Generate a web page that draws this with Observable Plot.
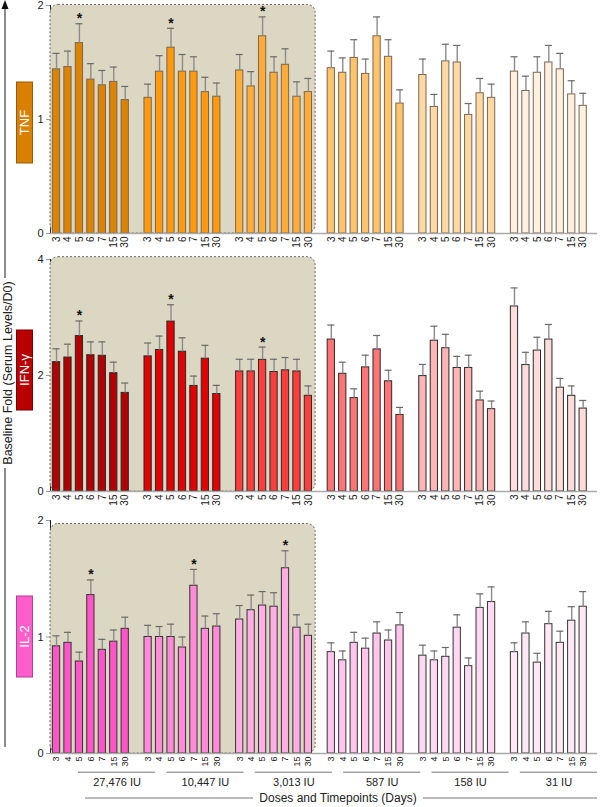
<!DOCTYPE html>
<html><head><meta charset="utf-8">
<script src="https://cdn.jsdelivr.net/npm/d3@7"></script>
<script src="https://cdn.jsdelivr.net/npm/@observablehq/plot@0.6"></script>
<style>
body{margin:0;background:#fff;font-family:"Liberation Sans",Arial,sans-serif;}
#root{position:relative;width:600px;height:807px;overflow:hidden;background:#fff;}
.abs{position:absolute;left:0;}
</style></head><body><div id="root"></div>
<script>
// ---------- data ----------
const doses = ["27,476 IU","10,447 IU","3,013 IU","587 IU","158 IU","31 IU"];
const timepoints = ["3","4","5","6","7","15","30"];

const tnfValues = [
  [1.44,1.46,1.67,1.35,1.30,1.33,1.17],
  [1.19,1.42,1.63,1.42,1.42,1.24,1.20],
  [1.43,1.29,1.73,1.41,1.48,1.20,1.24],
  [1.45,1.41,1.54,1.40,1.73,1.55,1.14],
  [1.39,1.11,1.51,1.50,1.04,1.23,1.19],
  [1.42,1.25,1.41,1.50,1.44,1.22,1.12]
];
const tnfErrors = [
  [0.14,0.14,0.17,0.14,0.13,0.13,0.12],
  [0.12,0.14,0.17,0.15,0.13,0.13,0.12],
  [0.14,0.13,0.17,0.14,0.14,0.13,0.12],
  [0.15,0.13,0.16,0.13,0.17,0.15,0.12],
  [0.14,0.11,0.15,0.15,0.10,0.13,0.12],
  [0.13,0.13,0.14,0.15,0.14,0.12,0.11]
];
const tnfStars = [["27,476 IU","5"],["10,447 IU","5"],["3,013 IU","5"]];

const ifnValues = [
  [2.23,2.31,2.68,2.35,2.34,2.04,1.70],
  [2.33,2.44,2.93,2.41,1.82,2.29,1.68],
  [2.07,2.07,2.27,2.06,2.09,2.07,1.65],
  [2.62,2.03,1.61,2.14,2.45,1.90,1.32],
  [1.99,2.60,2.47,2.13,2.13,1.57,1.42],
  [3.19,2.18,2.43,2.62,1.79,1.65,1.43]
];
const ifnErrors = [
  [0.23,0.23,0.26,0.23,0.24,0.19,0.17],
  [0.23,0.24,0.29,0.24,0.17,0.23,0.15],
  [0.21,0.21,0.22,0.22,0.22,0.21,0.17],
  [0.25,0.20,0.16,0.21,0.24,0.19,0.13],
  [0.20,0.25,0.24,0.20,0.22,0.16,0.14],
  [0.32,0.22,0.23,0.26,0.16,0.17,0.14]
];
const ifnStars = [["27,476 IU","5"],["10,447 IU","5"],["3,013 IU","5"]];

const il2Values = [
  [0.92,0.95,0.79,1.36,0.89,0.96,1.07],
  [1.00,1.00,1.00,0.91,1.44,1.07,1.09],
  [1.15,1.23,1.27,1.26,1.59,1.08,1.01],
  [0.87,0.80,0.95,0.90,1.03,0.97,1.10],
  [0.84,0.80,0.83,1.08,0.75,1.25,1.30],
  [0.87,1.03,0.78,1.11,0.95,1.14,1.26]
];
const il2Errors = [
  [0.09,0.09,0.08,0.13,0.09,0.10,0.10],
  [0.10,0.09,0.11,0.09,0.14,0.11,0.11],
  [0.12,0.13,0.12,0.12,0.15,0.11,0.10],
  [0.08,0.08,0.09,0.09,0.10,0.09,0.11],
  [0.09,0.08,0.08,0.11,0.07,0.12,0.13],
  [0.08,0.10,0.08,0.11,0.10,0.12,0.13]
];
const il2Stars = [["27,476 IU","6"],["10,447 IU","7"],["3,013 IU","7"]];

const tnfColors = ["#dc8400","#ff9a0c","#ffad38","#ffc46c","#ffd9a3","#fff0e0"];
const ifnColors = ["#b30000","#e20000","#ff3d3d","#ff7575","#ffb5b5","#ffdcdc"];
const il2Colors = ["#ff55c8","#ff8ad7","#ffaee4","#ffc5ec","#ffd9f2","#ffe8f6"];

const shadedDoses = ["27,476 IU","10,447 IU","3,013 IU"];

// ---------- helpers ----------
const root = document.getElementById("root");
const FONT = '"Liberation Sans", Arial, sans-serif';

const keys = [];
doses.forEach((d, g) => {
  timepoints.forEach(t => keys.push(d + "|" + t));
  if (g < doses.length - 1) keys.push(d + "|gap");
});

function rowsFor(values, errors, stars, colors) {
  const out = [];
  values.forEach((arr, g) => arr.forEach((v, i) => {
    const dose = doses[g], t = timepoints[i];
    out.push({key: dose + "|" + t, dose, t, v, e: errors[g][i], color: colors[g],
      star: stars.some(s => s[0] === dose && s[1] === t)});
  }));
  return out;
}

function panel({values, errors, stars, colors, stroke, yMax, top, marginTop, areaH, marginBottom, shadeTop, tickFont}) {
  const rows = rowsFor(values, errors, stars, colors);
  const height = marginTop + areaH + marginBottom;
  const chart = Plot.plot({
    width: 600, height, marginLeft: 50, marginRight: 3, marginTop, marginBottom,
    style: {fontFamily: FONT, fontSize: tickFont + "px", color: "#222", background: "transparent", overflow: "visible"},
    x: {domain: keys, range: [50.3, 588.4], padding: 0, round: false, tickSize: 0, tickPadding: 3, tickRotate: -90, label: null,
        tickFormat: k => { const t = k.split("|")[1]; return t === "gap" ? "" : t; }},
    y: {domain: [0, yMax], ticks: [0, yMax / 2, yMax], tickFormat: "d", tickSize: 4, tickPadding: 3, label: null, line: true},
    marks: [
      Plot.barY(rows, {x: "key", y: "v", fill: "color", stroke, strokeWidth: 1, insetLeft: 2.1, insetRight: 2.1}),
      Plot.ruleX(rows, {x: "key", y1: "v", y2: d => d.v + d.e, stroke: "#8c8c8c", strokeWidth: 1.4}),
      Plot.tickY(rows, {x: "key", y: d => d.v + d.e, stroke: "#6a6a6a", strokeWidth: 1.2, insetLeft: 2.2, insetRight: 2.2}),
      Plot.text(rows.filter(d => d.star), {x: "key", y: d => d.v + d.e, text: () => "*", dy: -5, fontSize: 14, fontWeight: "bold", fill: "#111"}),
      Plot.ruleY([0], {stroke: "#aaa", strokeWidth: 1.5})
    ]
  });
  chart.classList.add("abs");
  chart.style.top = top + "px";
  // shaded region behind high-dose groups
  const xs = chart.scale("x"), ys = chart.scale("y");
  const bw = xs.bandwidth;
  const x0 = xs.apply(shadedDoses[0] + "|" + timepoints[0]) - 0.3;
  const x1 = xs.apply(shadedDoses[shadedDoses.length - 1] + "|" + timepoints[timepoints.length - 1]) + bw + 1.5;
  const y0 = ys.apply(shadeTop), y1 = ys.apply(0);
  const ns = "http://www.w3.org/2000/svg";
  const rect = document.createElementNS(ns, "rect");
  rect.setAttribute("x", x0); rect.setAttribute("y", y0);
  rect.setAttribute("width", x1 - x0); rect.setAttribute("height", y1 - y0);
  rect.setAttribute("rx", 8); rect.setAttribute("ry", 8);
  rect.setAttribute("fill", "#dcd7c2"); rect.setAttribute("stroke", "#666");
  rect.setAttribute("stroke-dasharray", "2,2"); rect.setAttribute("stroke-width", 1);
  const svg = chart.tagName.toLowerCase() === "svg" ? chart : chart.querySelector("svg");
  const firstG = svg.querySelector("g");
  svg.insertBefore(rect, firstG);
  // axis styling
  svg.querySelectorAll("g[aria-label^='y-axis']").forEach(g => {
    g.querySelectorAll("path, line").forEach(el => el.setAttribute("stroke", "#9a9a9a"));
    g.querySelectorAll("text").forEach(el => el.setAttribute("font-size", "11"));
    if (g.getAttribute("font-size")) g.setAttribute("font-size", "11");
  });
  root.appendChild(chart);
}

panel({values: tnfValues, errors: tnfErrors, stars: tnfStars, colors: tnfColors, stroke: "#7a6650",
  yMax: 2, top: 0, marginTop: 5, areaH: 228, marginBottom: 25, shadeTop: 2.005, tickFont: 10});
panel({values: ifnValues, errors: ifnErrors, stars: ifnStars, colors: ifnColors, stroke: "#2a2a2a",
  yMax: 4, top: 250, marginTop: 9, areaH: 232, marginBottom: 25, shadeTop: 4.04, tickFont: 10});
panel({values: il2Values, errors: il2Errors, stars: il2Stars, colors: il2Colors, stroke: "#333",
  yMax: 2, top: 505, marginTop: 15, areaH: 233, marginBottom: 20, shadeTop: 1.97, tickFont: 9});

// dose labels under bottom panel
const doseChart = Plot.plot({
  width: 600, height: 30, marginLeft: 0, marginRight: 0, marginTop: 0, marginBottom: 0,
  style: {fontFamily: FONT, fontSize: "11px", color: "#222", background: "transparent", overflow: "visible"},
  x: {domain: doses, range: [78, 597], paddingInner: 0.127, paddingOuter: 0, round: false, axis: null},
  y: {domain: [0, 1], range: [17, 6.7], axis: null},
  marks: [
    Plot.tickY(doses, {x: d => d, y: () => 1, stroke: "#777", strokeWidth: 1}),
    Plot.text(doses, {x: d => d, y: () => 0, text: d => d, fontSize: 11, fill: "#222"})
  ]
});
doseChart.classList.add("abs");
doseChart.style.top = "765px";
root.appendChild(doseChart);

// left decorations & axis title
const deco = d3.create("svg").attr("width", 600).attr("height", 807)
  .attr("class", "abs").style("top", "0px").style("pointer-events", "none")
  .style("font-family", FONT);
deco.append("line").attr("x1", 5).attr("x2", 5).attr("y1", 7).attr("y2", 278).attr("stroke", "#666").attr("stroke-width", 1.5);
deco.append("line").attr("x1", 5).attr("x2", 5).attr("y1", 468).attr("y2", 747).attr("stroke", "#666").attr("stroke-width", 1.5);
deco.append("path").attr("d", "M5,0 L1.5,9 L8.5,9 Z").attr("fill", "#111");
deco.append("text").attr("transform", "translate(11.5,373) rotate(-90)").attr("text-anchor", "middle")
  .attr("font-size", 12.5).attr("fill", "#222").text("Baseline Fold (Serum Levels/D0)");

const boxes = [
  {label: "TNF", y: 82, h: 81, fill: "#d98000", stroke: "#9a5c00"},
  {label: "IFN-γ", y: 330, h: 80, fill: "#b80000", stroke: "#7a0000"},
  {label: "IL-2", y: 596, h: 81, fill: "#ff5ccc", stroke: "#b04090"}
];
boxes.forEach(b => {
  deco.append("rect").attr("x", 16.5).attr("y", b.y).attr("width", 16).attr("height", b.h)
    .attr("fill", b.fill).attr("stroke", b.stroke).attr("stroke-width", 1);
  deco.append("text").attr("transform", `translate(29,${b.y + b.h / 2}) rotate(-90)`).attr("text-anchor", "middle")
    .attr("font-size", 13).attr("fill", "#fff").text(b.label);
});

// bottom title with flanking lines
deco.append("line").attr("x1", 85).attr("x2", 253).attr("y1", 798).attr("y2", 798).attr("stroke", "#777");
deco.append("line").attr("x1", 423).attr("x2", 597).attr("y1", 798).attr("y2", 798).attr("stroke", "#777");
deco.append("text").attr("x", 338).attr("y", 802).attr("text-anchor", "middle").attr("font-size", 12)
  .attr("fill", "#222").text("Doses and Timepoints (Days)");
root.appendChild(deco.node());
</script></body></html>
